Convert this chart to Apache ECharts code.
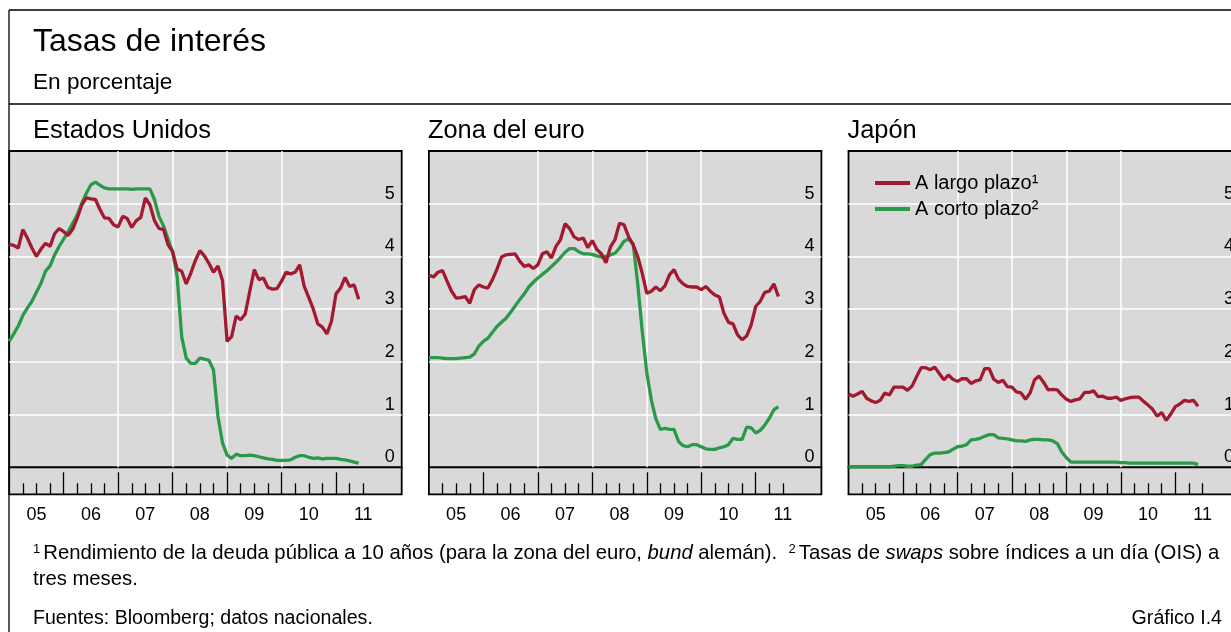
<!DOCTYPE html>
<html>
<head>
<meta charset="utf-8">
<script src="https://cdn.jsdelivr.net/npm/echarts@6/dist/echarts.min.js"></script>
<style>
html, body { margin: 0; padding: 0; background: #fff; }
#chart { width: 1231px; height: 632px; }
</style>
</head>
<body>
<div id="chart"></div>
<script>
// datos mensuales, ene 2005 - jun 2011
const startYear = 2005;
const usLong = [4.23,4.21,4.16,4.51,4.35,4.16,4.00,4.14,4.25,4.19,4.43,4.53,
  4.47,4.40,4.52,4.73,4.98,5.11,5.09,5.08,4.89,4.73,4.72,4.60,
  4.56,4.76,4.72,4.55,4.68,4.74,5.11,4.98,4.68,4.53,4.51,4.22,
  4.09,3.76,3.72,3.48,3.68,3.92,4.11,4.01,3.87,3.70,3.82,3.54,
  2.39,2.48,2.87,2.80,2.91,3.34,3.75,3.56,3.59,3.41,3.38,3.39,
  3.53,3.70,3.67,3.70,3.84,3.43,3.22,3.00,2.72,2.66,2.53,2.77,
  3.29,3.40,3.60,3.43,3.46,3.19];
const usShort = [2.39,2.53,2.68,2.88,3.02,3.15,3.32,3.49,3.72,3.82,4.03,4.19,
  4.33,4.47,4.63,4.79,5.01,5.20,5.36,5.41,5.35,5.30,5.28,5.28,
  5.28,5.28,5.28,5.27,5.28,5.28,5.28,5.28,5.08,4.76,4.58,4.33,
  4.09,3.62,2.48,2.07,1.97,1.97,2.07,2.05,2.03,1.85,0.96,0.46,
  0.23,0.17,0.25,0.22,0.22,0.23,0.22,0.20,0.18,0.16,0.15,0.13,
  0.13,0.13,0.14,0.19,0.22,0.22,0.19,0.17,0.18,0.16,0.17,0.17,
  0.17,0.15,0.14,0.12,0.10,0.08];
const euLong = [3.65,3.61,3.70,3.73,3.53,3.34,3.21,3.22,3.24,3.11,3.37,3.46,
  3.42,3.40,3.56,3.76,3.99,4.03,4.04,4.05,3.91,3.81,3.84,3.77,
  3.84,4.05,4.09,3.97,4.19,4.32,4.62,4.53,4.37,4.32,4.35,4.17,
  4.30,4.13,4.05,3.88,4.18,4.32,4.63,4.60,4.37,4.22,4.00,3.68,
  3.30,3.34,3.42,3.35,3.44,3.65,3.75,3.57,3.48,3.43,3.42,3.42,
  3.37,3.43,3.34,3.27,3.23,2.92,2.75,2.72,2.51,2.42,2.49,2.70,
  3.05,3.15,3.32,3.34,3.48,3.24];
const euShort = [2.08,2.08,2.08,2.07,2.06,2.06,2.06,2.07,2.08,2.09,2.15,2.30,
  2.39,2.45,2.56,2.67,2.75,2.83,2.94,3.06,3.18,3.29,3.42,3.51,
  3.59,3.66,3.73,3.81,3.89,3.98,4.08,4.15,4.15,4.09,4.05,4.05,
  4.04,4.01,3.99,4.00,4.03,4.06,4.16,4.29,4.33,4.24,3.49,2.58,
  1.80,1.28,0.92,0.72,0.74,0.72,0.72,0.49,0.41,0.39,0.43,0.43,
  0.39,0.35,0.34,0.34,0.37,0.39,0.43,0.55,0.53,0.53,0.76,0.75,
  0.65,0.70,0.80,0.93,1.09,1.15];
const jpLong = [1.39,1.35,1.39,1.44,1.31,1.26,1.23,1.27,1.41,1.37,1.52,1.52,
  1.52,1.46,1.54,1.72,1.89,1.89,1.85,1.90,1.78,1.66,1.75,1.67,
  1.63,1.68,1.68,1.59,1.64,1.66,1.87,1.87,1.67,1.61,1.65,1.53,
  1.52,1.43,1.41,1.29,1.41,1.66,1.73,1.61,1.47,1.48,1.47,1.37,
  1.29,1.25,1.28,1.30,1.42,1.42,1.45,1.34,1.35,1.31,1.31,1.33,
  1.27,1.30,1.32,1.33,1.33,1.25,1.18,1.10,0.97,1.04,0.89,1.01,
  1.15,1.20,1.27,1.25,1.27,1.16];
const jpShort = [0.01,0.01,0.01,0.01,0.01,0.01,0.01,0.01,0.01,0.01,0.02,0.03,
  0.03,0.02,0.02,0.04,0.05,0.15,0.24,0.27,0.27,0.28,0.29,0.34,
  0.39,0.40,0.43,0.52,0.53,0.55,0.59,0.62,0.62,0.56,0.55,0.54,
  0.52,0.50,0.50,0.49,0.52,0.53,0.53,0.52,0.52,0.50,0.45,0.29,
  0.18,0.10,0.10,0.10,0.10,0.10,0.10,0.10,0.10,0.10,0.10,0.10,
  0.09,0.09,0.08,0.08,0.08,0.08,0.08,0.08,0.08,0.08,0.08,0.08,
  0.08,0.08,0.08,0.08,0.08,0.05];

const panelTitles = ['Estados Unidos', 'Zona del euro', 'Japón'];
const panelData = [[usLong, usShort], [euLong, euShort], [jpLong, jpShort]];
const seriesNames = ['A largo plazo¹', 'A corto plazo²'];
const yearLabels = ['05', '06', '07', '08', '09', '10', '11'];
const yearLabelPos = [2005.5, 2006.5, 2007.5, 2008.5, 2009.5, 2010.5, 2011.5];
const yearTicks = [2006, 2007, 2008, 2009, 2010, 2011];
const quarterTicks = [2005.25, 2005.5, 2005.75, 2006.25, 2006.5, 2006.75,
  2007.25, 2007.5, 2007.75, 2008.25, 2008.5, 2008.75, 2009.25, 2009.5, 2009.75,
  2010.25, 2010.5, 2010.75, 2011.25, 2011.5];

const FONT = '"Liberation Sans", Arial, sans-serif';
const RED = '#a31a30';
const GREEN = '#2b9a48';
const BG = '#d9d9d9';

const lefts = [9.2, 428.9, 848.5];
const plotW = 392.5, plotTop = 151, plotH = 316.3, stripH = 27;
const xMin = 2005, xMax = 2012.206;

const toPairs = arr => arr.map((v, i) => [startYear + i / 12, v]);

let grids = [], xAxes = [], yAxes = [], series = [], graphics = [];

lefts.forEach((left, p) => {
  grids.push({ left: left, top: plotTop, width: plotW, height: plotH, show: true,
    outerBoundsMode: 'none', containLabel: false,
    backgroundColor: BG, borderColor: '#000', borderWidth: 1.8 });
  grids.push({ left: left, top: plotTop + plotH, width: plotW, height: stripH, show: true,
    outerBoundsMode: 'none', containLabel: false,
    backgroundColor: BG, borderColor: '#000', borderWidth: 1.8 });

  xAxes.push({
    gridIndex: 2 * p, type: 'value', min: xMin, max: xMax,
    axisLine: { show: false },
    axisTick: { show: false, customValues: yearTicks },
    axisLabel: { show: false },
    splitLine: { show: true, showMinLine: false, showMaxLine: false, lineStyle: { color: '#fff', width: 1.5 } }
  });
  xAxes.push({
    gridIndex: 2 * p + 1, type: 'value', min: xMin, max: xMax, position: 'bottom',
    axisLine: { show: false },
    axisTick: { show: true, inside: true, length: 22, customValues: yearTicks,
      lineStyle: { color: '#000', width: 1.3 } },
    axisLabel: { show: true, customValues: yearLabelPos, margin: 12,
      fontSize: 18, fontFamily: FONT, color: '#000',
      formatter: v => yearLabels[Math.round(v - 2005.5)] },
    splitLine: { show: false }
  });
  xAxes.push({
    gridIndex: 2 * p + 1, type: 'value', min: xMin, max: xMax, position: 'bottom',
    axisLine: { show: false },
    axisTick: { show: true, inside: true, length: 11, customValues: quarterTicks,
      lineStyle: { color: '#000', width: 1.3 } },
    axisLabel: { show: false },
    splitLine: { show: false }
  });

  yAxes.push({
    gridIndex: 2 * p, type: 'value', min: 0, max: 6, interval: 1, position: 'right',
    axisLine: { show: false }, axisTick: { show: false },
    axisLabel: { inside: true, margin: 7, fontSize: 18, fontFamily: FONT, color: '#000',
      verticalAlign: 'bottom', padding: [0, 0, 1, 0],
      formatter: v => (v < 6 ? String(v) : '') },
    splitLine: { show: true, showMinLine: false, showMaxLine: false, lineStyle: { color: '#fff', width: 1.5 } }
  });
  yAxes.push({ gridIndex: 2 * p + 1, type: 'value', min: 0, max: 1, show: false });

  series.push({
    name: seriesNames[1], type: 'line', xAxisIndex: 3 * p, yAxisIndex: 2 * p,
    data: toPairs(panelData[p][1]), showSymbol: false, animation: false,
    lineStyle: { color: GREEN, width: 3.3 }, itemStyle: { color: GREEN }
  });
  series.push({
    name: seriesNames[0], type: 'line', xAxisIndex: 3 * p, yAxisIndex: 2 * p,
    data: toPairs(panelData[p][0]), showSymbol: false, animation: false,
    lineStyle: { color: RED, width: 3.3 }, itemStyle: { color: RED }
  });

  graphics.push({ type: 'text', x: p === 0 ? 33 : left - 1, y: 131,
    style: { text: panelTitles[p], fontSize: 25.4, fontFamily: FONT, fill: '#000', verticalAlign: 'middle' } });
});

// marco y textos
graphics.push({ type: 'line', shape: { x1: 9, y1: 10, x2: 1231, y2: 10 }, style: { stroke: '#000', lineWidth: 1.3 } });
graphics.push({ type: 'line', shape: { x1: 9, y1: 10, x2: 9, y2: 632 }, style: { stroke: '#000', lineWidth: 1.3 } });
graphics.push({ type: 'line', shape: { x1: 9, y1: 104, x2: 1231, y2: 104 }, style: { stroke: '#000', lineWidth: 1.3 } });
graphics.push({ type: 'text', x: 33, y: 42,
  style: { text: 'Tasas de interés', fontSize: 32, fontFamily: FONT, fill: '#000', verticalAlign: 'middle' } });
graphics.push({ type: 'text', x: 33, y: 83,
  style: { text: 'En porcentaje', fontSize: 22.6, fontFamily: FONT, fill: '#000', verticalAlign: 'middle' } });
graphics.push({ type: 'text', x: 33, y: 553,
  style: {
    text: '{s|1}Rendimiento de la deuda pública a 10 años (para la zona del euro, {i|bund} alemán).  {s|2}Tasas de {i|swaps} sobre índices a un día (OIS) a',
    fontSize: 20.3, fontFamily: FONT, fill: '#000', verticalAlign: 'middle',
    rich: {
      s: { fontSize: 13, fontFamily: FONT, verticalAlign: 'top', padding: [0, 3, 6, 0] },
      i: { fontSize: 20.3, fontFamily: FONT, fontStyle: 'italic' }
    }
  } });
graphics.push({ type: 'text', x: 33, y: 579,
  style: { text: 'tres meses.', fontSize: 20.3, fontFamily: FONT, fill: '#000', verticalAlign: 'middle' } });
graphics.push({ type: 'text', x: 33, y: 619,
  style: { text: 'Fuentes: Bloomberg; datos nacionales.', fontSize: 19.6, fontFamily: FONT, fill: '#000', verticalAlign: 'middle' } });
graphics.push({ type: 'text', x: 1222, y: 619,
  style: { text: 'Gráfico I.4', fontSize: 19.6, fontFamily: FONT, fill: '#000', align: 'right', verticalAlign: 'middle' } });

const chart = echarts.init(document.getElementById('chart'), null, { renderer: 'canvas' });
chart.setOption({
  backgroundColor: '#fff',
  animation: false,
  legend: {
    left: 870, top: 168, orient: 'vertical', icon: 'rect',
    itemWidth: 35, itemHeight: 4, itemGap: 6,
    data: seriesNames,
    textStyle: { fontSize: 20, fontFamily: FONT, color: '#000' }
  },
  grid: grids,
  xAxis: xAxes,
  yAxis: yAxes,
  series: series,
  graphic: graphics
});
</script>
</body>
</html>
